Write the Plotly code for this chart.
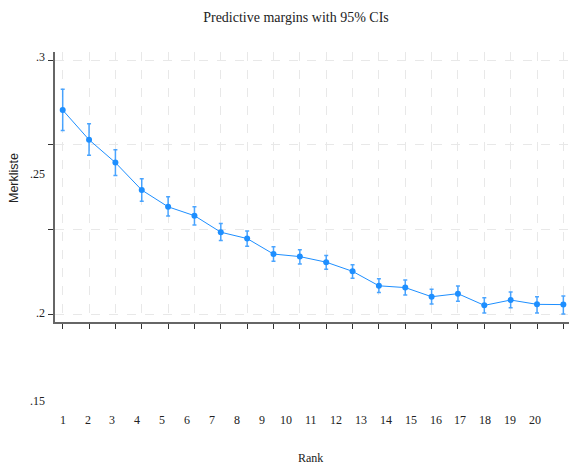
import plotly.graph_objects as go

# ---- data ----
rank = list(range(1, 21))
margin = [0.2803, 0.2686, 0.2596, 0.2488, 0.2422, 0.2387, 0.2322, 0.2297, 0.2236, 0.2226,
          0.2204, 0.2168, 0.2111, 0.2104, 0.2068, 0.2080, 0.2034, 0.2055, 0.2038, 0.2037]
ci_low = [0.2722, 0.2625, 0.2545, 0.2444, 0.2386, 0.2350, 0.2289, 0.2267, 0.2208, 0.2197,
          0.2176, 0.2141, 0.2085, 0.2075, 0.2039, 0.2050, 0.2004, 0.2025, 0.2004, 0.2000]
ci_high = [0.2885, 0.2749, 0.2647, 0.2532, 0.2462, 0.2422, 0.2356, 0.2327, 0.2265, 0.2253,
           0.2230, 0.2194, 0.2139, 0.2134, 0.2097, 0.2110, 0.2064, 0.2087, 0.2068, 0.2071]
y_tickvals = [0.2, 0.2 + 0.1 / 3, 0.2 + 0.2 / 3, 0.3]
y_ticklabels = [".3", ".25", ".2", ".15"]
x_ticklabels = [str(r) for r in rank]

W, H = 569, 471
ML, MR, MT, MB = 55, 0, 52, 149
PW, PH = W - ML - MR, H - MT - MB

def px_x(p):
    return (p - ML) / PW

def px_y(p):
    return (H - MB - p) / PH

blue = "#1E8FFF"
fig = go.Figure()
fig.add_trace(go.Scatter(
    x=rank, y=margin, mode="lines+markers",
    line=dict(color=blue, width=1),
    marker=dict(color=blue, size=6, symbol="circle"),
    error_y=dict(type="data", symmetric=False,
                 array=[h - m for h, m in zip(ci_high, margin)],
                 arrayminus=[m - l for m, l in zip(margin, ci_low)],
                 color="rgba(30,143,255,0.8)", thickness=1.5, width=2),
    showlegend=False,
))

serif = "Liberation Serif"
annotations = []
# y labels (as drawn in the reference)
for lab, py in zip(y_ticklabels, [57, 174, 313, 401]):
    annotations.append(dict(text=lab, xref="paper", yref="paper", x=px_x(47), y=px_y(py),
                            xanchor="right", yanchor="middle", showarrow=False,
                            font=dict(family=serif, size=12, color="#222")))
# x labels
for i, lab in enumerate(x_ticklabels):
    annotations.append(dict(text=lab, xref="paper", yref="paper", x=px_x(62.7 + i * 24.86), y=px_y(420),
                            xanchor="center", yanchor="middle", showarrow=False,
                            font=dict(family=serif, size=12, color="#222")))
annotations.append(dict(text="Rank", xref="paper", yref="paper", x=px_x(310), y=px_y(458),
                        xanchor="center", yanchor="middle", showarrow=False,
                        font=dict(family=serif, size=12, color="#222")))
annotations.append(dict(text="Merkliste", xref="paper", yref="paper", x=px_x(14), y=px_y(178),
                        xanchor="center", yanchor="middle", showarrow=False, textangle=-90,
                        font=dict(family="Liberation Sans", size=12.5, color="#222")))

fig.update_layout(
    width=W, height=H,
    margin=dict(l=ML, r=MR, t=MT, b=MB),
    paper_bgcolor="white", plot_bgcolor="white",
    title=dict(text="Predictive margins with 95% CIs", x=296 / W, xanchor="center",
               y=1 - 17 / H, yanchor="middle", font=dict(family=serif, size=14, color="#222")),
    annotations=annotations,
    xaxis=dict(range=[1 - 7.7 / 26.35, 1 + (W - 62.7) / 26.35], tickvals=rank, showticklabels=False,
               ticks="outside", ticklen=5, tickwidth=1, tickcolor="#333",
               showline=True, linecolor="#666", linewidth=1.5,
               showgrid=True, gridcolor="#e8e8e8", griddash="dash", gridwidth=1, zeroline=False),
    yaxis=dict(range=[0.2 - 8 / 2540, 0.3 + 8 / 2540], tickvals=y_tickvals, showticklabels=False,
               ticks="outside", ticklen=5, tickwidth=1, tickcolor="#333",
               showline=True, linecolor="#666", linewidth=1.5,
               showgrid=True, gridcolor="#e8e8e8", griddash="dash", gridwidth=1, zeroline=False),
)
fig.write_html("out.html")
